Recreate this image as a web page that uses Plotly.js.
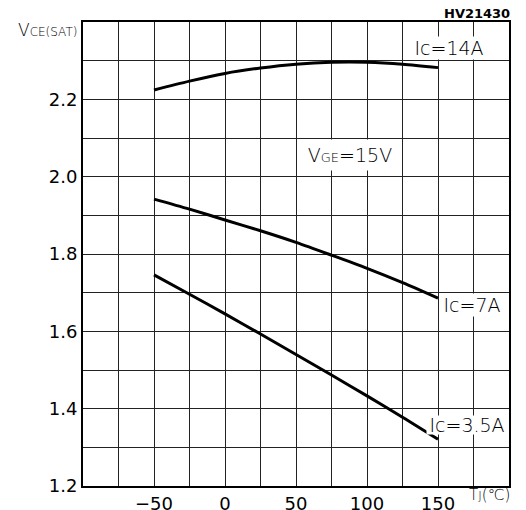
<!DOCTYPE html>
<html>
<head>
<meta charset="utf-8">
<script src="https://cdn.plot.ly/plotly-3.0.1.min.js"></script>
<style>html,body{margin:0;padding:0;background:#fff;}#chart{width:526px;height:510px;}</style>
</head>
<body>
<div id="chart"></div>
<script>
// Junction temperature (°C)
const tj = [-50, -25, 0, 25, 50, 75, 100, 125, 150];
// VCE(sat) series
const vce14A = [2.224, 2.247, 2.267, 2.281, 2.291, 2.296, 2.296, 2.291, 2.282];
const vce7A  = [1.942, 1.916, 1.888, 1.860, 1.830, 1.797, 1.763, 1.726, 1.686];
const vce35A = [1.746, 1.696, 1.645, 1.593, 1.540, 1.487, 1.433, 1.378, 1.321];
// tick positions / labels
const xTickVals = [-100, -75, -50, -25, 0, 25, 50, 75, 100, 125, 150, 175, 200];
const xTickText = ['', '', '\u221250', '', '0', '', '50', '', '100', '', '150', '', ''];
const yTickVals = [1.2, 1.3, 1.4, 1.5, 1.6, 1.7, 1.8, 1.9, 2.0, 2.1, 2.2, 2.3, 2.4];
const yTickText = ['1.2', '', '1.4', '', '1.6', '', '1.8', '', '2.0', '', '2.2', '', ''];

const lineStyle = {color: '#000', width: 3, shape: 'spline', smoothing: 0.8};
const traces = [vce14A, vce7A, vce35A].map(v => ({
  x: tj, y: v, type: 'scatter', mode: 'lines', line: lineStyle, hoverinfo: 'skip'
}));

const F = 'DejaVu Sans, Liberation Sans, sans-serif';
const LF = {family: F, size: 19, weight: 200, color: '#000'};
function lab(x, y, text, w, h) {
  return {x: x, y: y, xref: 'x', yref: 'y', text: text, showarrow: false, font: LF,
          xanchor: 'center', yanchor: 'middle', bgcolor: '#fff', borderpad: 0,
          width: w, height: h};
}
const layout = {
  width: 526, height: 510,
  margin: {l: 83, r: 17, t: 22, b: 24},
  paper_bgcolor: '#fff', plot_bgcolor: '#fff',
  showlegend: false,
  font: {family: F, color: '#000', size: 18},
  xaxis: {
    range: [-100, 200], tickmode: 'array', tickvals: xTickVals, ticktext: xTickText,
    showgrid: true, gridcolor: '#222', gridwidth: 1, zeroline: false,
    showline: true, linecolor: '#000', linewidth: 2, mirror: true,
    ticks: '', tickfont: {family: F, size: 18}, fixedrange: true
  },
  yaxis: {
    range: [1.2, 2.4], tickmode: 'array', tickvals: yTickVals, ticktext: yTickText,
    showgrid: true, gridcolor: '#222', gridwidth: 1, zeroline: false,
    showline: true, linecolor: '#000', linewidth: 2, mirror: true,
    ticks: '', tickfont: {family: F, size: 18}, fixedrange: true
  },
  annotations: [
    lab(158, 2.332, 'Ic=14A', 84, 22),
    lab(88, 2.055, 'V<span style="font-size:13px">GE</span>=15V', 88, 30),
    lab(174, 1.667, 'Ic=7A', 58, 22),
    lab(170.5, 1.358, 'Ic=3.5A', 80, 18),
    {x: 477, y: 13, xref: 'paper', yref: 'paper', text: 'HV21430', showarrow: false,
     font: {family: F, size: 13, weight: 600}},
    {x: 47, y: 30, text: 'V<span style="font-size:12px">CE(SAT)</span>', showarrow: false,
     font: {family: F, size: 17, weight: 200}},
    {x: 489, y: 495, text: 'T<span style="font-size:12px">J</span>(\u2103)', showarrow: false,
     font: {family: F, size: 15, weight: 200}}
  ]
};
// convert pixel-positioned annotations to paper coordinates
const pw = 526 - 83 - 17, ph = 510 - 22 - 24;
layout.annotations.forEach(a => {
  if (a.xref === 'x') return;
  const px = a.x, py = a.y;
  a.xref = 'paper'; a.yref = 'paper';
  a.xanchor = 'center'; a.yanchor = 'middle';
  a.x = (px - 83) / pw; a.y = 1 - (py - 22) / ph;
});
Plotly.newPlot('chart', traces, layout, {displayModeBar: false, staticPlot: true});
</script>
</body>
</html>
